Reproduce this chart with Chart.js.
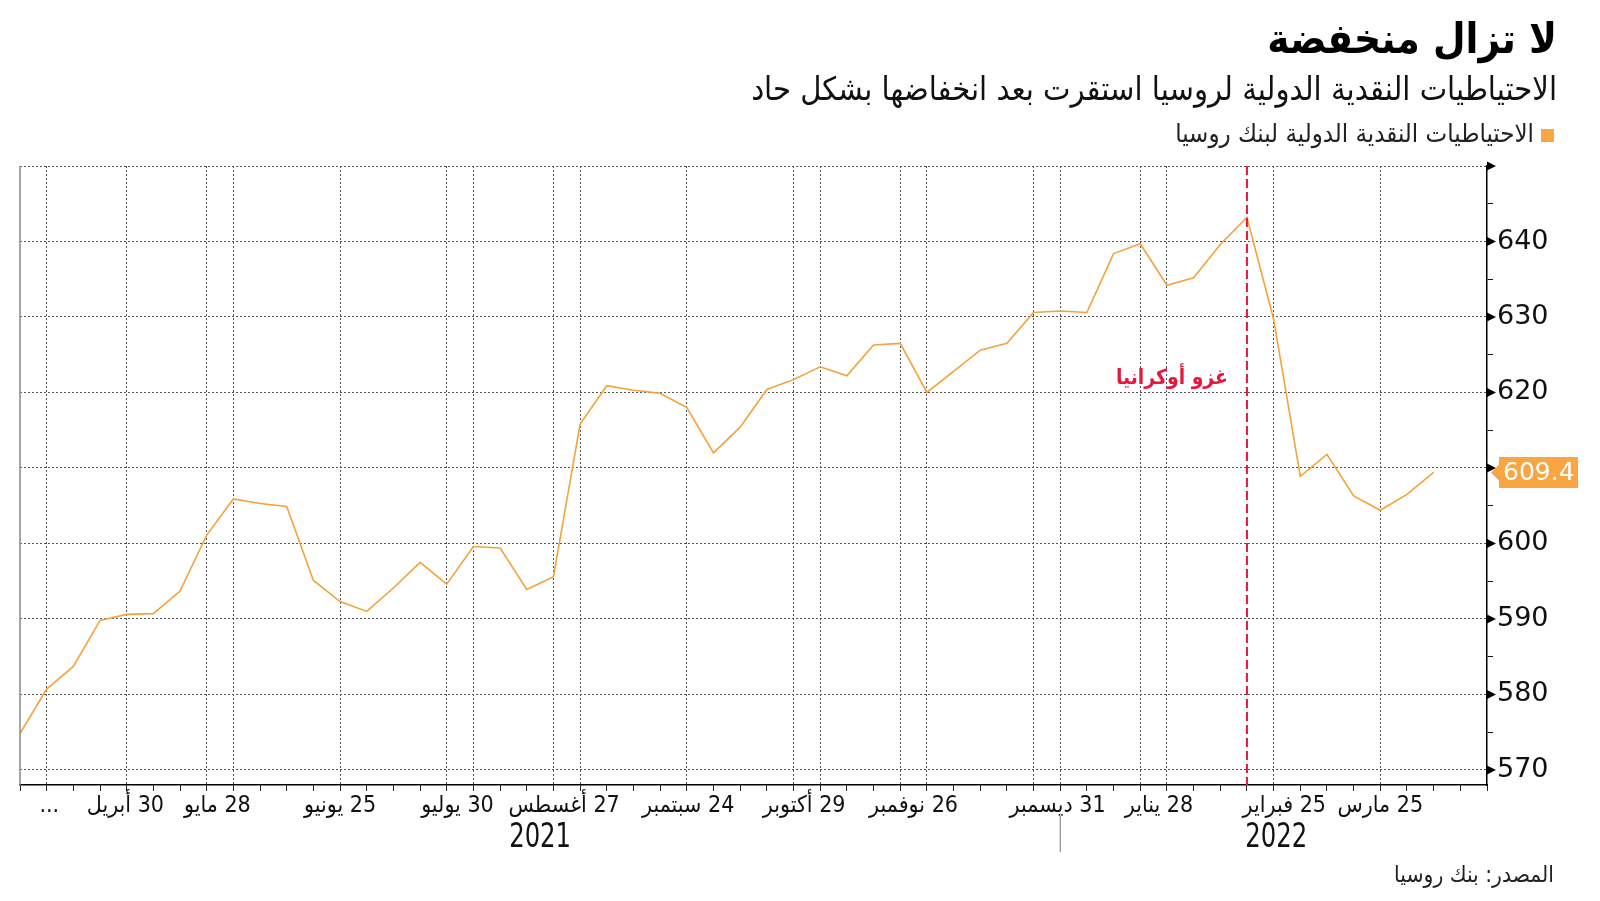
<!DOCTYPE html>
<html><head><meta charset="utf-8">
<script src="https://cdn.jsdelivr.net/npm/chart.js@4"></script>
<style>html,body{margin:0;padding:0;background:#fff;}canvas{display:block;}</style>
</head><body>
<canvas id="c" dir="rtl" width="1600" height="901"></canvas>
<script>
// ---- data ----
const titleText = "لا تزال منخفضة";
const subtitleText = "الاحتياطيات النقدية الدولية لروسيا استقرت بعد انخفاضها بشكل حاد";
const legendText = "الاحتياطيات النقدية الدولية لبنك روسيا";
const sourceText = "المصدر: بنك روسيا";
// weekly values (bn USD), week 0 = 2 Apr 2021 ... week 53 = 8 Apr 2022
const reserves = [
  574.8, 580.7, 583.7, 589.8, 590.6, 590.7, 593.7, 601.1, 605.9, 605.3,
  604.9, 595.1, 592.3, 591.0, 594.1, 597.5, 594.6, 599.6, 599.4, 593.9,
  595.6, 615.8, 620.9, 620.3, 619.9, 618.0, 612.0, 615.4, 620.4, 621.7,
  623.4, 622.2, 626.3, 626.5, 620.0, 622.8, 625.6, 626.5, 630.6, 630.8,
  630.6, 638.4, 639.7, 634.2, 635.2, 639.6, 643.2, 629.7, 608.9, 611.8,
  606.3, 604.4, 606.5, 609.4
];
const xTickLabels = ["...", "30 أبريل", "28 مايو", "25 يونيو", "30 يوليو", "27 أغسطس", "24 سبتمبر", "29 أكتوبر", "26 نوفمبر", "31 ديسمبر", "28 يناير", "25 فبراير", "25 مارس"];
const xTickWeeks  = [1.1, 3.95, 7.4, 12, 16.4, 20.4, 25.05, 29.4, 33.5, 38.9, 42.7, 47.4, 51];
const gridWeeks   = [1, 4, 7, 8, 12, 16, 17, 20, 21, 25, 29, 30, 33, 34, 38, 39, 42, 43, 47, 51];
const yearLabels  = ["2021", "2022"];
const yearWeeks   = [19.5, 47.1];
const yearBreakWeek = 39;
const yTicks = [570, 575, 580, 585, 590, 595, 600, 605, 610, 615, 620, 625, 630, 635, 640, 645, 650];
const invasionWeek = 46;
const invasionLabel = "غزو أوكرانيا";
const invasionLabelValue = 621.8;

// ---- styles ----
const ORANGE = '#f5a23c';
const TAG = '#f8a542';
const RED = '#e5173f';
const GRID = '#555555';
const AR_FONT = '"DejaVu Sans Condensed", "DejaVu Sans", sans-serif';
const NARROW = '"Liberation Sans Narrow", "DejaVu Sans Condensed", "DejaVu Sans", sans-serif';
const NUM_FONT = '"DejaVu Sans", sans-serif';
const lastValue = reserves[reserves.length - 1];

const xAllTicks = [];
for (let w = 0; w <= 55; w++) xAllTicks.push(w);
xTickWeeks.forEach(v => { if (!xAllTicks.includes(v)) xAllTicks.push(v); });
xAllTicks.sort((a, b) => a - b);

function fitText(ctx, text, weight, family, targetW, maxSize) {
  let size = maxSize;
  ctx.font = `${weight} ${size}px ${family}`;
  const w = ctx.measureText(text).width;
  if (w > 0) size = Math.min(maxSize, size * targetW / w);
  ctx.font = `${weight} ${size}px ${family}`;
}

const decor = {
  id: 'decor',
  afterDatasetsDraw(chart) {
    const {ctx, chartArea: ca, scales: {x, y}} = chart;
    ctx.save();
    // red invasion line
    const xi = x.getPixelForValue(invasionWeek);
    ctx.strokeStyle = RED; ctx.lineWidth = 2; ctx.setLineDash([9, 4]);
    ctx.beginPath(); ctx.moveTo(xi, ca.top); ctx.lineTo(xi, ca.bottom); ctx.stroke();
    ctx.setLineDash([]);
    ctx.fillStyle = RED; ctx.textAlign = 'right'; ctx.textBaseline = 'middle';
    fitText(ctx, invasionLabel, 'bold', AR_FONT, 112, 25);
    ctx.fillText(invasionLabel, xi - 19, y.getPixelForValue(invasionLabelValue));
    ctx.restore();
  },
  afterDraw(chart) {
    const {ctx, chartArea: ca, scales: {x, y}} = chart;
    ctx.save();
    // left grey edge
    ctx.strokeStyle = '#8a8a8a'; ctx.lineWidth = 1.5;
    ctx.beginPath(); ctx.moveTo(ca.left, ca.top); ctx.lineTo(ca.left, ca.bottom); ctx.stroke();
    // triangles on right axis
    ctx.fillStyle = '#000';
    yTicks.filter(v => v % 10 === 0).forEach(v => {
      const py = y.getPixelForValue(v);
      ctx.beginPath(); ctx.moveTo(ca.right, py - 4.5); ctx.lineTo(ca.right + 9, py); ctx.lineTo(ca.right, py + 4.5); ctx.closePath(); ctx.fill();
    });
    // last value tag
    const py = y.getPixelForValue(lastValue);
    const L = ca.right + 12, R = 1578, T = py - 15.5, B = py + 15.5, tip = ca.right + 4;
    ctx.fillStyle = TAG;
    ctx.beginPath();
    ctx.moveTo(L, T); ctx.lineTo(R, T); ctx.lineTo(R, B); ctx.lineTo(L, B);
    ctx.lineTo(L, py + 8); ctx.lineTo(tip, py); ctx.lineTo(L, py - 8); ctx.closePath(); ctx.fill();
    ctx.fillStyle = '#fff'; ctx.font = `25px ${NUM_FONT}`; ctx.textAlign = 'left'; ctx.textBaseline = 'middle';
    ctx.fillText(lastValue.toFixed(1), L + 4, py + 1);
    // years (condensed look)
    ctx.fillStyle = '#111'; ctx.textAlign = 'center'; ctx.textBaseline = 'middle';
    ctx.font = `33px ${NARROW}`;
    yearLabels.forEach((t, i) => {
      const px = x.getPixelForValue(yearWeeks[i]);
      ctx.save(); ctx.translate(px, 838); ctx.scale(0.82, 1);
      ctx.fillText(t, 0, 0); ctx.restore();
    });
    const xb = x.getPixelForValue(yearBreakWeek);
    ctx.strokeStyle = '#777'; ctx.lineWidth = 1;
    ctx.beginPath(); ctx.moveTo(xb, 816); ctx.lineTo(xb, 852); ctx.stroke();
    // header
    ctx.fillStyle = '#000'; ctx.textAlign = 'right'; ctx.textBaseline = 'middle';
    fitText(ctx, titleText, 'bold', AR_FONT, 290, 48);
    ctx.fillText(titleText, 1557, 42);
    fitText(ctx, subtitleText, 'normal', AR_FONT, 806, 34);
    ctx.fillStyle = '#111';
    ctx.fillText(subtitleText, 1557, 92);
    ctx.fillStyle = '#f9a745';
    ctx.fillRect(1541, 129, 13, 13);
    ctx.fillStyle = '#222';
    fitText(ctx, legendText, 'normal', AR_FONT, 359, 27);
    ctx.fillText(legendText, 1534, 135);
    fitText(ctx, sourceText, 'normal', AR_FONT, 160, 24);
    ctx.fillText(sourceText, 1554, 876);
    ctx.restore();
  }
};

new Chart(document.getElementById('c'), {
  type: 'line',
  data: {
    datasets: [{
      data: reserves.map((v, i) => ({x: i, y: v})),
      borderColor: ORANGE, borderWidth: 1.6, pointRadius: 0, tension: 0, fill: false
    }]
  },
  options: {
    responsive: false, animation: false, devicePixelRatio: 1,
    layout: {padding: {left: 20, top: 166, right: 0, bottom: 0}},
    plugins: {legend: {display: false}, tooltip: {enabled: false}, title: {display: false}},
    scales: {
      x: {
        type: 'linear', position: 'bottom', min: 0, max: 55,
        afterBuildTicks: s => { s.ticks = xAllTicks.map(v => ({value: v})); },
        afterFit: s => { s.height = 116; },
        grid: {
          color: c => (c.tick && gridWeeks.includes(c.tick.value)) ? GRID : 'rgba(0,0,0,0)',
          tickColor: c => (c.tick && Number.isInteger(c.tick.value)) ? '#222' : 'rgba(0,0,0,0)',
          tickLength: 6, lineWidth: 1
        },
        border: {display: true, color: '#000', width: 1.5, dash: [2, 2]},
        ticks: {
          autoSkip: false, maxRotation: 0, minRotation: 0, padding: 2,
          color: '#111', font: {family: NARROW, size: 23, lineHeight: 1.1},
          callback: v => { const k = xTickWeeks.indexOf(v); return k >= 0 ? xTickLabels[k] : ''; }
        }
      },
      y: {
        type: 'linear', position: 'right', min: 568, max: 650,
        afterBuildTicks: s => { s.ticks = yTicks.map(v => ({value: v})); },
        afterFit: s => { s.width = 113; },
        grid: {
          color: c => (c.tick && c.tick.value % 10 === 0) ? GRID : 'rgba(0,0,0,0)',
          tickColor: c => (c.tick && c.tick.value % 10 !== 0) ? '#111' : 'rgba(0,0,0,0)',
          tickLength: 6, lineWidth: 1
        },
        border: {display: true, color: '#000', width: 1.5, dash: [2, 2]},
        ticks: {
          padding: 4, color: '#111', font: {family: NUM_FONT, size: 27},
          callback: v => (v % 10 === 0 && v !== 650 && Math.abs(v - lastValue) > 4) ? String(v) : ''
        }
      }
    }
  },
  plugins: [decor]
});
</script>
</body></html>
